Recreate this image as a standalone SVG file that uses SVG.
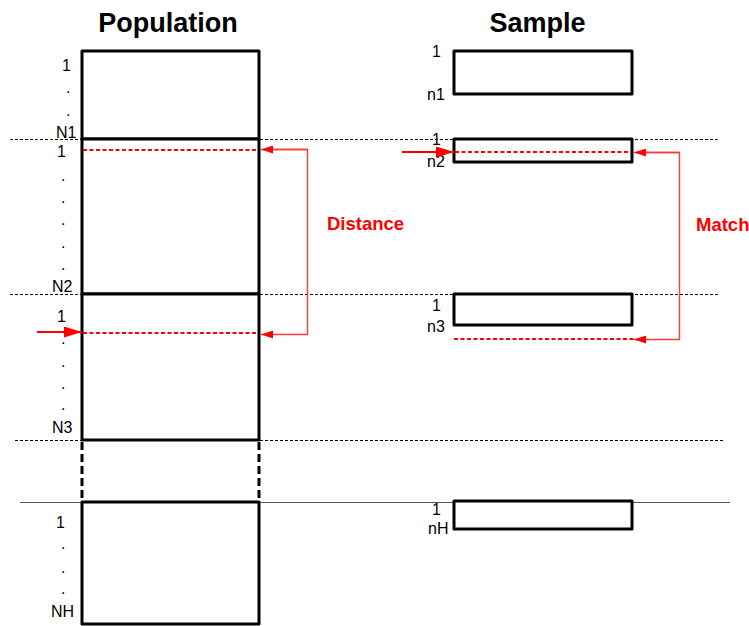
<svg xmlns="http://www.w3.org/2000/svg" width="749" height="626" viewBox="0 0 749 626">
<style>
.guide{stroke:#000;stroke-width:1;stroke-dasharray:3 2;fill:none}
.box{fill:#fff;stroke:#000;stroke-width:3;stroke-linejoin:round}
.lbl{font-family:"Liberation Sans",Arial,sans-serif;font-size:16px;fill:#000}
.title{font-family:"Liberation Sans",Arial,sans-serif;font-size:27px;font-weight:bold;fill:#000;text-anchor:middle}
.rlbl{font-family:"Liberation Sans",Arial,sans-serif;font-size:18.5px;font-weight:bold;fill:#ff0000}
.rdash{stroke:#ff0000;stroke-width:2;stroke-dasharray:4 2.5;fill:none}
.conn{stroke:#ff3a3a;stroke-width:1.4;fill:none}
.entry{stroke:#ff0000;stroke-width:2;fill:none}
</style>
<defs>
<marker id="ah" markerUnits="userSpaceOnUse" markerWidth="12" markerHeight="8" refX="12" refY="4" orient="auto">
<path d="M0,0 L12,4 L0,8 Z" fill="#ff0000"/>
</marker>
<marker id="ahBig" markerUnits="userSpaceOnUse" markerWidth="18" markerHeight="11" refX="18" refY="5.5" orient="auto">
<path d="M0,0 L18,5.5 L0,11 Z" fill="#ff0000"/>
</marker>
</defs>
<rect width="749" height="626" fill="#fff"/>
<g id="guides">
<line class="guide" x1="10" y1="139.5" x2="720" y2="139.5"/>
<line class="guide" x1="10" y1="294.5" x2="720" y2="294.5"/>
<line class="guide" x1="15" y1="440.5" x2="725" y2="440.5"/>
<line x1="20" y1="502.5" x2="730" y2="502.5" stroke="#555" stroke-width="1"/>
</g>
<g id="titles">
<text class="title" x="168" y="32">Population</text>
<text class="title" x="537.5" y="32">Sample</text>
</g>
<g id="population">
<g id="pop-stratum-1">
<rect class="box" x="82" y="51" width="177" height="88"/>
<text class="lbl" x="62" y="71">1</text>
<text class="lbl" x="66" y="93">.</text>
<text class="lbl" x="66" y="116">.</text>
<text class="lbl" x="56" y="138">N1</text>
</g>
<g id="pop-stratum-2">
<rect class="box" x="82" y="139" width="177" height="155"/>
<text class="lbl" x="57" y="157">1</text>
<text class="lbl" x="61" y="181">.</text>
<text class="lbl" x="61" y="203">.</text>
<text class="lbl" x="61" y="225">.</text>
<text class="lbl" x="61" y="248">.</text>
<text class="lbl" x="61" y="270">.</text>
<text class="lbl" x="52" y="292">N2</text>
</g>
<g id="pop-stratum-3">
<rect class="box" x="82" y="294" width="177" height="146"/>
<text class="lbl" x="57" y="322">1</text>
<text class="lbl" x="61" y="344">.</text>
<text class="lbl" x="61" y="367">.</text>
<text class="lbl" x="61" y="389">.</text>
<text class="lbl" x="61" y="410">.</text>
<text class="lbl" x="52" y="433">N3</text>
</g>
<g id="pop-gap">
<line x1="82" y1="442" x2="82" y2="500" stroke="#000" stroke-width="3" stroke-dasharray="8 4"/>
<line x1="259" y1="442" x2="259" y2="500" stroke="#000" stroke-width="3" stroke-dasharray="8 4"/>
</g>
<g id="pop-stratum-H">
<rect class="box" x="82" y="502" width="177" height="122"/>
<text class="lbl" x="56" y="528">1</text>
<text class="lbl" x="61" y="549">.</text>
<text class="lbl" x="61" y="573">.</text>
<text class="lbl" x="61" y="594">.</text>
<text class="lbl" x="51" y="617">NH</text>
</g>
</g>
<g id="sample">
<g id="smp-1">
<rect class="box" x="454" y="51" width="178" height="43"/>
<text class="lbl" x="432" y="57">1</text>
<text class="lbl" x="427" y="100">n1</text>
</g>
<g id="smp-2">
<rect class="box" x="454" y="139" width="178" height="23"/>
<text class="lbl" x="432" y="145">1</text>
<text class="lbl" x="427" y="167">n2</text>
</g>
<g id="smp-3">
<rect class="box" x="454" y="294" width="178" height="31"/>
<text class="lbl" x="432" y="311">1</text>
<text class="lbl" x="427" y="332">n3</text>
</g>
<g id="smp-H">
<rect class="box" x="454" y="501" width="178" height="28"/>
<text class="lbl" x="432" y="515">1</text>
<text class="lbl" x="428" y="534">nH</text>
</g>
</g>
<g id="connectors">
<line class="rdash" x1="83" y1="150" x2="258" y2="150"/>
<line class="rdash" x1="83" y1="333" x2="258" y2="333"/>
<line class="rdash" x1="455" y1="152" x2="631" y2="152"/>
<line class="rdash" x1="454" y1="339" x2="635" y2="339"/>
<path class="conn" d="M272,149.5 H307.5 V334.5 H261" marker-end="url(#ah)"/>
<path class="conn" d="M307.5,149.5 H261" marker-end="url(#ah)"/>
<path class="conn" d="M645,152.5 H679.5 V339.5 H634" marker-end="url(#ah)"/>
<path class="conn" d="M679.5,152.5 H634" marker-end="url(#ah)"/>
<line class="entry" x1="37" y1="332" x2="82" y2="332" marker-end="url(#ahBig)"/>
<line class="entry" x1="402" y1="152" x2="454" y2="152" marker-end="url(#ahBig)"/>
</g>
<g id="labels">
<text class="rlbl" x="327" y="230">Distance</text>
<text class="rlbl" x="696" y="231">Match</text>
</g>
</svg>
